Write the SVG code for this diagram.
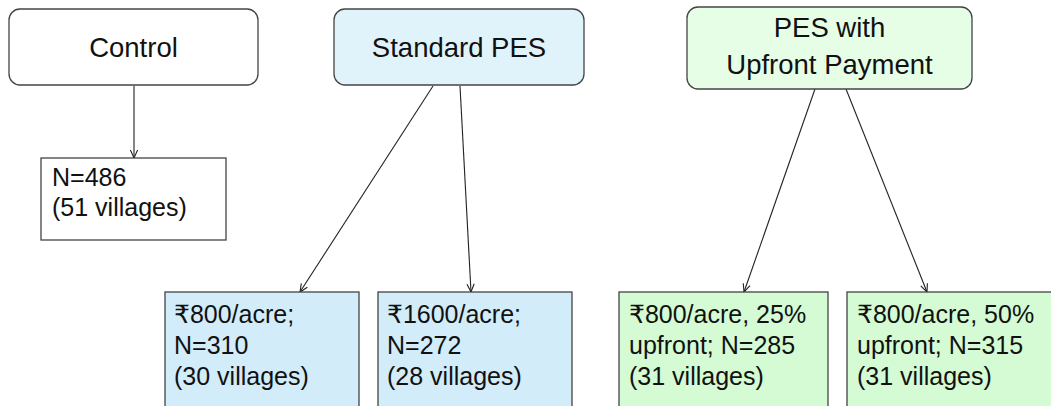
<svg xmlns="http://www.w3.org/2000/svg" width="1051" height="406" viewBox="0 0 1051 406">
<style>
text{font-family:"Liberation Sans","DejaVu Sans","Noto Sans",sans-serif;font-size:25px;fill:#111}
.t{font-size:27.5px}
.box{stroke:#444;stroke-width:1.3}
.edge{stroke:#222;stroke-width:1.1;fill:none;marker-end:url(#arr)}
.c{text-anchor:middle}
</style>
<defs>
<marker id="arr" markerUnits="userSpaceOnUse" markerWidth="12" markerHeight="12" viewBox="-10 -6 12 12" refX="0" refY="0" orient="auto">
<path d="M-8,-3.6 L0,0 L-8,3.6" fill="none" stroke="#222" stroke-width="1.1"/>
</marker>
</defs>
<rect width="1051" height="406" fill="#fff"/>
<g id="edges">
<line class="edge" x1="134" y1="86" x2="134" y2="158"/>
<line class="edge" x1="433" y1="86" x2="300" y2="292"/>
<line class="edge" x1="460" y1="86" x2="471" y2="292"/>
<line class="edge" x1="815" y1="89" x2="744" y2="292"/>
<line class="edge" x1="846" y1="89" x2="927" y2="292"/>
</g>
<g id="control">
<rect class="box" x="9" y="9" width="249" height="76" rx="11" fill="#fff"/>
<text class="c t" x="133.5" y="57">Control</text>
</g>
<g id="standard">
<rect class="box" x="334" y="9" width="250" height="76" rx="11" fill="#e0f3fb"/>
<text class="c t" x="459" y="57">Standard PES</text>
</g>
<g id="upfront">
<rect class="box" x="687" y="7" width="285" height="82" rx="11" fill="#e6fde6"/>
<text class="c t" x="829.5" y="37">PES with</text>
<text class="c t" x="829.5" y="74">Upfront Payment</text>
</g>
<g id="control-n">
<rect class="box" x="41" y="158" width="185" height="82" fill="#fff"/>
<text x="52" y="186">N=486</text>
<text x="52" y="216">(51 villages)</text>
</g>
<g id="std800">
<rect class="box" x="165" y="292" width="194" height="130" fill="#d2ecfa"/>
<text x="174" y="323">₹800/acre;</text>
<text x="174" y="354">N=310</text>
<text x="174" y="385">(30 villages)</text>
</g>
<g id="std1600">
<rect class="box" x="378" y="292" width="194" height="130" fill="#d2ecfa"/>
<text x="387" y="323">₹1600/acre;</text>
<text x="387" y="354">N=272</text>
<text x="387" y="385">(28 villages)</text>
</g>
<g id="up25">
<rect class="box" x="619" y="292" width="209" height="130" fill="#d4fbd4"/>
<text x="629" y="323">₹800/acre, 25%</text>
<text x="629" y="354">upfront; N=285</text>
<text x="629" y="385">(31 villages)</text>
</g>
<g id="up50">
<rect class="box" x="847" y="292" width="220" height="130" fill="#d4fbd4"/>
<text x="857" y="323">₹800/acre, 50%</text>
<text x="857" y="354">upfront; N=315</text>
<text x="857" y="385">(31 villages)</text>
</g>
</svg>
